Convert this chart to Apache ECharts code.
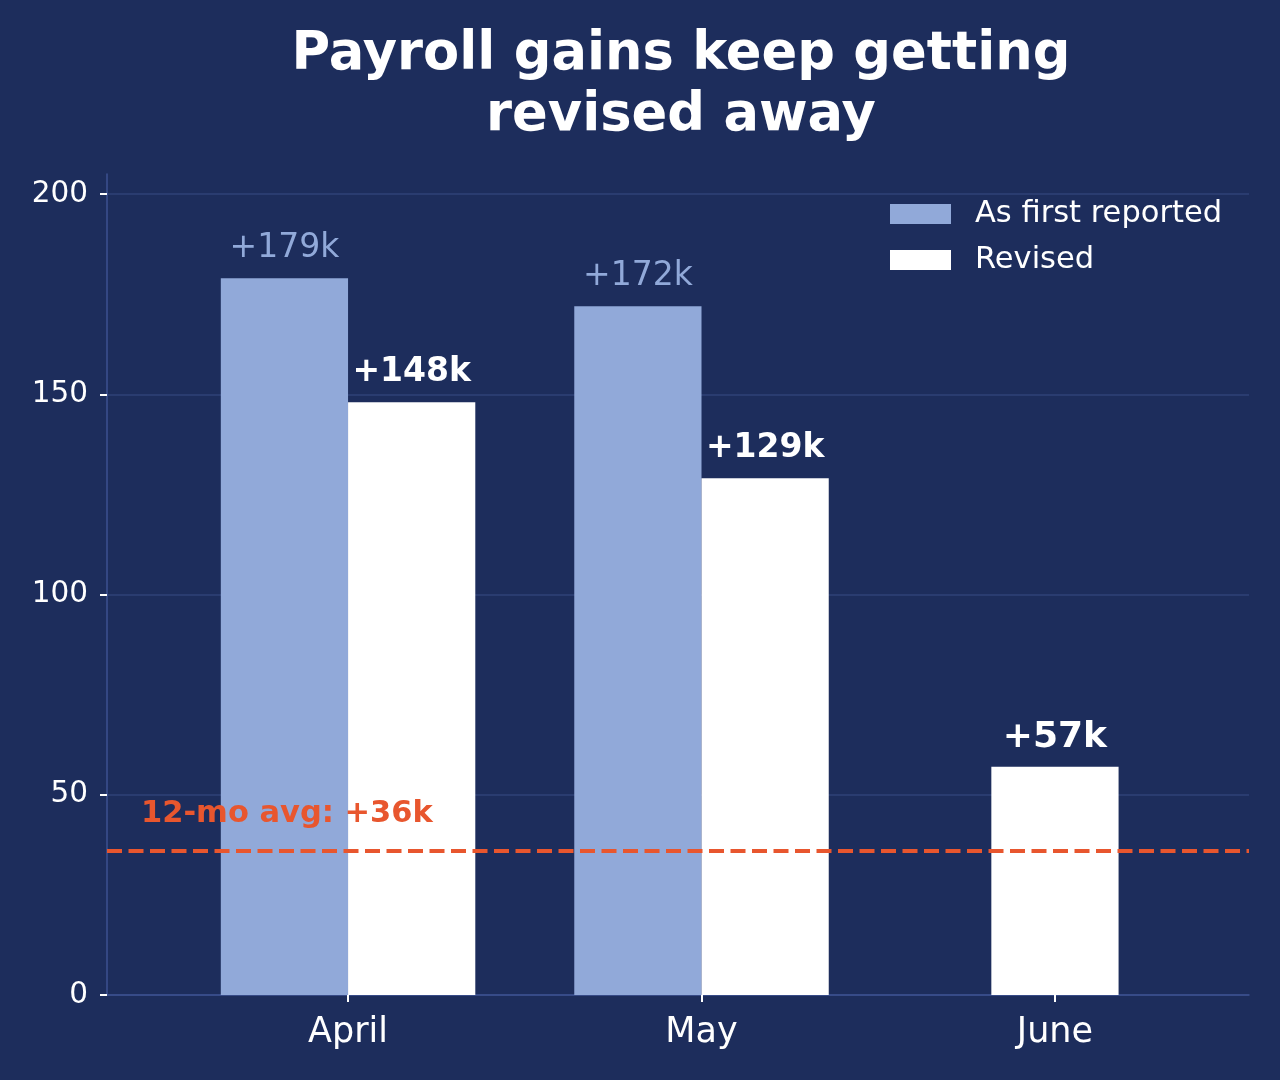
<!DOCTYPE html>
<html>
<head>
<meta charset="utf-8">
<script src="https://cdn.jsdelivr.net/npm/echarts@6/dist/echarts.min.js"></script>
<style>
    html, body { margin: 0; padding: 0; background: #1d2d5c; }
    #main { width: 1280px; height: 1080px; }
</style>
</head>
<body>
<div id="main"></div>
<script type="text/javascript">
    // data
    var months = ['April', 'May', 'June'];
    var firstReported = [179, 172, null];
    var revised = [148, 129, 57];
    var avg12mo = 36;
    var yTicks = [0, 50, 100, 150, 200];

    var BG = '#1d2d5c';
    var LIGHT = '#91a9d9';
    var ORANGE = '#e8562e';
    var FONT = 'DejaVu Sans';

    // axis range (category units), bar width 0.36 of a category
    var xMin = -0.682, xMax = 2.549, bw = 0.36;
    var gridLeft = 107, gridRight = 31;
    var plotW = 1280 - gridLeft - gridRight;
    var barPx = bw * plotW / (xMax - xMin);

    var firstData = [], revData = [];
    months.forEach(function (m, i) {
        var hasFirst = firstReported[i] != null;
        if (hasFirst) {
            firstData.push({value: [i - bw / 2, firstReported[i]]});
        }
        var item = {value: [hasFirst ? i + bw / 2 : i, revised[i]]};
        if (!hasFirst) {
            item.label = {fontSize: 36};
        }
        revData.push(item);
    });

    var myChart = echarts.init(document.getElementById('main'));
    var option = {
        backgroundColor: BG,
        animation: false,
        textStyle: {fontFamily: FONT},
        title: {
            text: 'Payroll gains keep getting\nrevised away',
            left: 676,
            textAlign: 'center',
            top: 20,
            textStyle: {
                color: '#ffffff',
                fontSize: 52.7,
                fontWeight: 'bold',
                lineHeight: 61,
                fontFamily: FONT
            }
        },
        legend: {
            orient: 'vertical',
            left: 890,
            top: 198,
            padding: 0,
            itemWidth: 61,
            itemHeight: 20,
            itemGap: 14,
            icon: 'rect',
            textStyle: {color: '#ffffff', fontSize: 30.5, lineHeight: 30, fontFamily: FONT, padding: [2, 0, 0, 19]},
            data: ['As first reported', 'Revised']
        },
        grid: {left: gridLeft, right: gridRight, top: 174, bottom: 85, containLabel: false},
        xAxis: {
            type: 'value',
            min: xMin,
            max: xMax,
            axisLine: {show: true, onZero: false, lineStyle: {color: '#3d5090', width: 1.5}},
            axisTick: {show: true, length: 7, customValues: [0, 1, 2], lineStyle: {color: '#ffffff', width: 2}},
            axisLabel: {
                customValues: [0, 1, 2],
                color: '#ffffff',
                fontSize: 35,
                margin: 20,
                fontFamily: FONT,
                formatter: function (v) { return months[Math.round(v)]; }
            },
            splitLine: {show: false}
        },
        yAxis: {
            type: 'value',
            min: 0,
            max: 205,
            interval: 50,
            axisLine: {show: true, onZero: false, lineStyle: {color: '#3d5090', width: 1.5}},
            axisTick: {show: true, length: 7, customValues: yTicks, lineStyle: {color: '#ffffff', width: 2}},
            axisLabel: {customValues: yTicks, color: '#ffffff', fontSize: 29.5, margin: 19, padding: [6, 0, 0, 0], fontFamily: FONT},
            splitLine: {show: true, lineStyle: {color: '#2f4277', width: 1.5}}
        },
        series: [
            {
                name: 'As first reported',
                type: 'bar',
                barWidth: barPx,
                barGap: '-100%',
                itemStyle: {color: LIGHT},
                label: {
                    show: true,
                    position: 'top',
                    distance: 13,
                    color: LIGHT,
                    fontSize: 33,
                    lineHeight: 33,
                    fontFamily: FONT,
                    formatter: function (p) { return '+' + p.value[1] + 'k'; }
                },
                data: firstData
            },
            {
                name: 'Revised',
                type: 'bar',
                barWidth: barPx,
                barGap: '-100%',
                itemStyle: {color: '#ffffff'},
                label: {
                    show: true,
                    position: 'top',
                    distance: 13,
                    color: '#ffffff',
                    fontSize: 33,
                    lineHeight: 33,
                    fontWeight: 'bold',
                    fontFamily: FONT,
                    formatter: function (p) { return '+' + p.value[1] + 'k'; }
                },
                data: revData,
                markLine: {
                    silent: true,
                    symbol: 'none',
                    z: 10,
                    lineStyle: {color: ORANGE, width: 4, type: [15, 6.5]},
                    label: {
                        show: true,
                        position: 'insideStartTop',
                        distance: 21,
                        padding: [0, 0, 0, 13],
                        color: ORANGE,
                        fontSize: 30.5,
                        fontWeight: 'bold',
                        fontFamily: FONT,
                        formatter: '12-mo avg: +' + avg12mo + 'k'
                    },
                    data: [{yAxis: avg12mo}]
                }
            }
        ]
    };
    myChart.setOption(option);
</script>
</body>
</html>
